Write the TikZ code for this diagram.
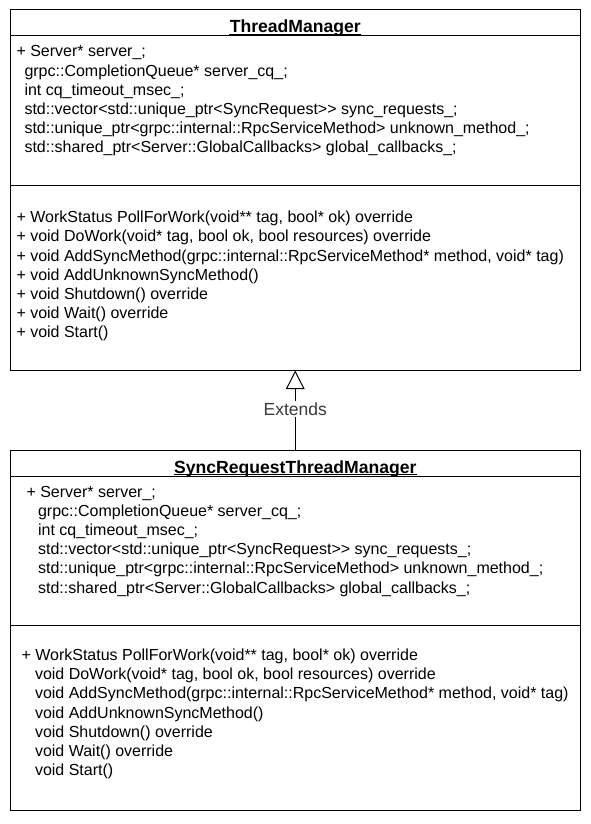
\documentclass[tikz,border=0pt]{standalone}
\usepackage{fontspec}
\setmainfont{Liberation Sans}
\usetikzlibrary{arrows.meta,calc}
\definecolor{labelgray}{HTML}{3A3A3A}
\begin{document}
\begin{tikzpicture}[x=1pt,y=-1pt, line width=1pt,
  classbox/.style={draw, rectangle, inner sep=0pt, minimum width=569.5pt, minimum height=360pt},
  classtitle/.style={anchor=base, inner sep=0pt, font=\fontsize{17.6}{21}\selectfont\bfseries},
  member/.style={anchor=base west, inner sep=0pt, font=\fontsize{16}{19.2}\selectfont},
  extlabel/.style={fill=white, inner sep=1.5pt, text=labelgray, font=\fontsize{17.5}{21}\selectfont},
  inherit/.style={-{Triangle[open, length=18.5pt, width=18.6pt]}}]

\useasboundingbox (0,0) rectangle (591,824);
\fill[white] (0,0) rectangle (591,824);

% ---------- ThreadManager ----------
\node[classbox] (tm) at (295.25,190) {};
\coordinate (tmh) at (0,36);
\coordinate (tmm) at (0,185);
\draw (tm.west |- tmh) -- (tm.east |- tmh);
\draw (tm.west |- tmm) -- (tm.east |- tmm);
\node[classtitle] (tmt) at (295.3,33) {ThreadManager};
\draw[line width=1.2pt] ($(tmt.base west)+(0,1.6)$) -- ($(tmt.base east)+(0,1.6)$);

\foreach [count=\i] \txt/\dx in {
  {+ Server* server\_;}/0,
  {grpc::CompletionQueue* server\_cq\_;}/8,
  {int cq\_timeout\_msec\_;}/8,
  {std::vector<std::unique\_ptr<SyncRequest>{}> sync\_requests\_;}/8,
  {std::unique\_ptr<grpc::internal::RpcServiceMethod> unknown\_method\_;}/8,
  {std::shared\_ptr<Server::GlobalCallbacks> global\_callbacks\_;}/8}
  \node[member] (tma\i) at (16+\dx, 57+19.2*\i-19.2) {\txt};

\foreach [count=\i] \txt in {
  {+ WorkStatus PollForWork(void** tag, bool* ok) override},
  {+ void DoWork(void* tag, bool ok, bool resources) override},
  {+ void AddSyncMethod(grpc::internal::RpcServiceMethod* method, void* tag)},
  {+ void AddUnknownSyncMethod()},
  {+ void Shutdown() override},
  {+ void Wait() override},
  {+ void Start()}}
  \node[member] (tmo\i) at (16, 222.7+19.2*\i-19.2) {\txt};

% ---------- SyncRequestThreadManager ----------
\node[classbox] (srtm) at (295.25,630) {};
\coordinate (srh) at (0,476);
\coordinate (srm) at (0,625);
\draw (srtm.west |- srh) -- (srtm.east |- srh);
\draw (srtm.west |- srm) -- (srtm.east |- srm);
\node[classtitle] (srt) at (295.3,473) {SyncRequestThreadManager};
\draw[line width=1.2pt] ($(srt.base west)+(0,1.6)$) -- ($(srt.base east)+(0,1.6)$);

\foreach [count=\i] \txt/\dx in {
  {+ Server* server\_;}/0,
  {grpc::CompletionQueue* server\_cq\_;}/11.6,
  {int cq\_timeout\_msec\_;}/11.6,
  {std::vector<std::unique\_ptr<SyncRequest>{}> sync\_requests\_;}/11.6,
  {std::unique\_ptr<grpc::internal::RpcServiceMethod> unknown\_method\_;}/11.6,
  {std::shared\_ptr<Server::GlobalCallbacks> global\_callbacks\_;}/11.6}
  \node[member] (sra\i) at (26+\dx, 497+19.2*\i-19.2) {\txt};

\foreach [count=\i] \txt/\dx in {
  {+ WorkStatus PollForWork(void** tag, bool* ok) override}/0,
  {void DoWork(void* tag, bool ok, bool resources) override}/13.5,
  {void AddSyncMethod(grpc::internal::RpcServiceMethod* method, void* tag)}/13.5,
  {void AddUnknownSyncMethod()}/13.5,
  {void Shutdown() override}/13.5,
  {void Wait() override}/13.5,
  {void Start()}/13.5}
  \node[member] (sro\i) at (21+\dx, 660.5+19.2*\i-19.2) {\txt};

% ---------- generalisation ----------
\draw[inherit] (srtm.north) -- node[extlabel, pos=0.51] (ext) {Extends} (tm.south);

\end{tikzpicture}
\end{document}
